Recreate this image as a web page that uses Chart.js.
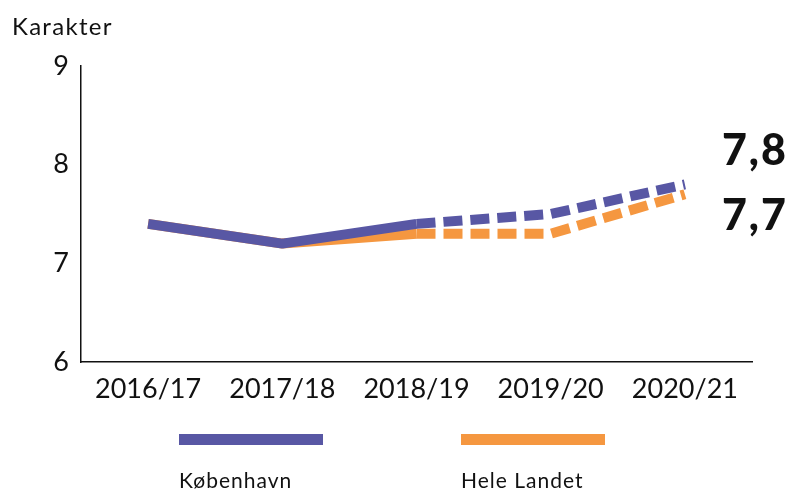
<!DOCTYPE html>
<html>
<head>
<meta charset="utf-8">
<script src="https://cdn.jsdelivr.net/npm/chart.js@4"></script>
<style>
  html, body { margin: 0; padding: 0; background: #fff; }
  #wrap { width: 791px; height: 493px; }
</style>
</head>
<body>
<div id="wrap"><canvas id="myChart" width="791" height="493"></canvas></div>
<script>
// data
var years = ["2016/17", "2017/18", "2018/19", "2019/20", "2020/21"];
var kobenhavn = [7.4, 7.2, 7.4, 7.5, 7.8];
var heleLandet = [7.4, 7.2, 7.3, 7.3, 7.7];
var endLabels = ["7,8", "7,7"];
var yTicks = [6, 7, 8, 9];

var blue = "rgb(88,87,164)";
var orange = "rgb(245,151,64)";
var font = "Lato, 'Noto Sans', sans-serif";

// dashed from 2018/19 onwards
function dashAfter(ctx) {
  return ctx.p0DataIndex >= 2 ? [19, 8] : undefined;
}

// title, end labels and legend drawn on the canvas
var extras = {
  id: "extras",
  afterDraw: function (chart) {
    var c = chart.ctx;
    var y = chart.scales.y;
    var x = chart.scales.x;
    c.save();
    c.fillStyle = "#111";
    c.textAlign = "left";
    c.textBaseline = "alphabetic";
    c.letterSpacing = "1.3px";
    c.font = "24px " + font;
    c.fillText("Karakter", 12, 35);

    // end value labels
    c.font = "900 43px " + font;
    c.letterSpacing = "2px";
    var lx = x.getPixelForValue(years.length - 1) + 37;
    c.fillText(endLabels[0], lx, y.getPixelForValue(kobenhavn[4]) - 19);
    c.fillText(endLabels[1], lx, y.getPixelForValue(heleLandet[4]) + 36);

    // legend
    var pos = [179, 461];
    chart.data.datasets.forEach(function (ds, i) {
      c.fillStyle = ds.borderColor;
      c.fillRect(pos[i], 434, 144, 11);
      c.fillStyle = "#111";
      c.font = "21px " + font;
      c.letterSpacing = "1px";
      c.fillText(ds.label, pos[i], 488);
    });
    c.restore();
  }
};

var ctx = document.getElementById("myChart").getContext("2d");
var myChart = new Chart(ctx, {
  type: "line",
  data: {
    labels: years,
    datasets: [
      {
        label: "København",
        data: kobenhavn,
        borderColor: blue,
        backgroundColor: blue,
        borderWidth: 10,
        pointRadius: 0,
        tension: 0,
        borderCapStyle: "butt",
        borderJoinStyle: "bevel",
        order: 0,
        segment: { borderDash: dashAfter }
      },
      {
        label: "Hele Landet",
        data: heleLandet,
        borderColor: orange,
        backgroundColor: orange,
        borderWidth: 10,
        pointRadius: 0,
        tension: 0,
        borderCapStyle: "butt",
        borderJoinStyle: "bevel",
        order: 1,
        segment: { borderDash: dashAfter }
      }
    ]
  },
  options: {
    responsive: false,
    animation: false,
    layout: { padding: { top: 66, right: 39, bottom: 81, left: 0 } },
    plugins: { legend: { display: false }, tooltip: { enabled: false } },
    scales: {
      x: {
        offset: true,
        afterFit: function (s) { s.height = 50; },
        grid: { display: false, drawTicks: false },
        border: { display: true, color: "#111", width: 1.5 },
        ticks: { color: "#111", font: { family: font, size: 27 }, padding: 11, maxRotation: 0 }
      },
      y: {
        min: 6,
        max: 9,
        afterFit: function (s) { s.width = 81; },
        afterBuildTicks: function (s) { s.ticks = yTicks.map(function (v) { return { value: v }; }); },
        grid: { display: false, drawTicks: false },
        border: { display: true, color: "#111", width: 1.5 },
        ticks: { color: "#111", font: { family: font, size: 27 }, padding: 12 }
      }
    }
  },
  plugins: [extras]
});
</script>
</body>
</html>
